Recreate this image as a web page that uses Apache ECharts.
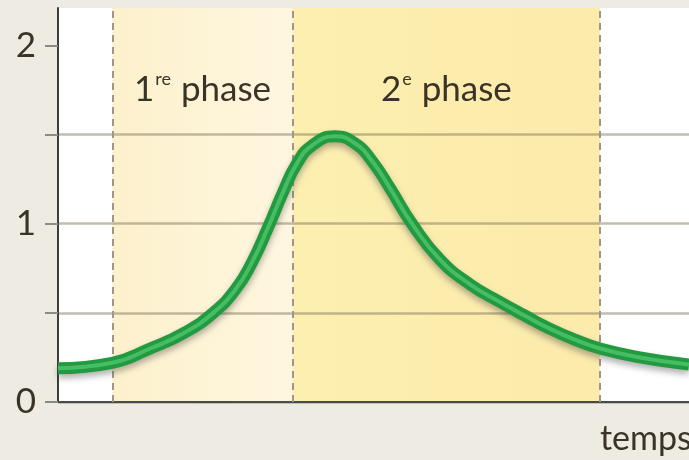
<!DOCTYPE html>
<html>
<head>
<meta charset="utf-8">
<script src="https://cdn.jsdelivr.net/npm/echarts@6/dist/echarts.min.js"></script>
<style>
  html, body { margin: 0; padding: 0; background: #eeebe2; overflow: hidden; }
  #chart { width: 689px; height: 460px; }
</style>
</head>
<body>
<div id="chart"></div>
<script>
  // temps (unités arbitraires, 0 = début) et valeurs
  var temps = [0, 8.6, 14.6, 20.1, 24.6, 28.1, 30.7, 33.3, 35.7, 37.9, 40.3, 43.9, 47.1,
               49.8, 52.6, 56.1, 60.5, 65.3, 70.1, 73.7, 78.0, 81.9, 85.9, 92.2, 100]
  var valeurs = [0.19, 0.22, 0.30, 0.39, 0.50, 0.63, 0.78, 0.98, 1.18, 1.34, 1.44, 1.49, 1.45,
                 1.35, 1.20, 1.00, 0.80, 0.66, 0.56, 0.49, 0.41, 0.35, 0.30, 0.25, 0.21]
  // limites des phases sur l'axe du temps
  var limites = [8.6, 37.2, 85.9]
  var yTicks = [0, 0.5, 1, 1.5, 2]
  var yLabels = [0, 1, 2]

  var points = []
  for (var i = 0; i < temps.length; i++) {
    points.push([temps[i], valeurs[i]])
  }

  var textColor = '#3a3327'
  var font = 'Lato, "Open Sans", sans-serif'

  function grad(c0, c1) {
    return new echarts.graphic.LinearGradient(0, 0, 1, 0, [
      { offset: 0, color: c0 },
      { offset: 1, color: c1 }
    ])
  }

  function phaseLabel(fmt) {
    return {
      show: true,
      position: ['50%', 82],
      align: 'center',
      verticalAlign: 'middle',
      formatter: fmt,
      rich: {
        n: { fontSize: 35, color: textColor, fontFamily: font, lineHeight: 40 },
        s: { fontSize: 18, color: textColor, fontFamily: font, verticalAlign: 'top', lineHeight: 40, padding: [0, 1, 16, 1] }
      }
    }
  }

  var myChart = echarts.init(document.getElementById('chart'))
  myChart.setOption({
    backgroundColor: '#eeebe2',
    animation: false,
    grid: {
      left: 58, right: 0, top: 8, bottom: 58,
      outerBoundsMode: 'none',
      show: true, backgroundColor: '#ffffff', borderWidth: 0
    },
    xAxis: {
      type: 'value',
      min: 0,
      max: 100,
      z: 3,
      name: 'temps',
      nameLocation: 'end',
      nameGap: -89,
      nameTextStyle: {
        color: textColor, fontSize: 34, fontFamily: font,
        align: 'left', verticalAlign: 'top', padding: [20, 0, 0, 0]
      },
      axisLine: { show: true, lineStyle: { color: '#4a4a48', width: 2 } },
      axisTick: { show: false },
      axisLabel: { show: false },
      splitLine: { show: false }
    },
    yAxis: {
      type: 'value',
      min: 0,
      max: 2.21,
      interval: 0.5,
      z: 3,
      axisLine: { show: true, lineStyle: { color: '#3d3d3b', width: 2 } },
      axisTick: {
        show: true, length: 13, customValues: yTicks,
        lineStyle: { color: '#8a8a86', width: 2 }
      },
      axisLabel: {
        customValues: yLabels, margin: 22,
        color: textColor, fontSize: 35, fontFamily: font
      },
      splitLine: {
        show: true, showMaxLine: false,
        lineStyle: { color: 'rgba(120,108,85,0.45)', width: 2.5 }
      }
    },
    series: [
      {
        // phases (fond coloré + pointillés)
        type: 'line',
        data: [],
        z: 1,
        silent: true,
        markArea: {
          silent: true,
          data: [
            [{
              xAxis: limites[0],
              itemStyle: { color: grad('#fdf1cc', '#fef6e0') },
              label: phaseLabel('{n|1}{s|re}{n| phase}')
            }, { xAxis: limites[1] }],
            [{
              xAxis: limites[1],
              itemStyle: { color: grad('#fcefb0', '#fcebab') },
              label: phaseLabel('{n|2}{s|e}{n| phase}')
            }, { xAxis: limites[2] }]
          ]
        },
        markLine: {
          silent: true,
          symbol: 'none',
          label: { show: false },
          lineStyle: { color: '#9c978a', width: 2, type: [7, 5] },
          data: limites.map(function (v) { return { xAxis: v } })
        }
      },
      {
        // courbe (bord sombre + ombre)
        type: 'line',
        data: points,
        z: 5,
        smooth: 0.5,
        symbol: 'none',
        silent: true,
        lineStyle: {
          color: '#239940', width: 12,
          shadowColor: 'rgba(60,60,60,0.4)', shadowBlur: 6, shadowOffsetY: 4
        }
      },
      {
        // reflet clair au centre de la courbe
        type: 'line',
        data: points,
        z: 6,
        smooth: 0.5,
        symbol: 'none',
        silent: true,
        lineStyle: { color: '#45bd65', width: 4 }
      }
    ]
  })
</script>
</body>
</html>
